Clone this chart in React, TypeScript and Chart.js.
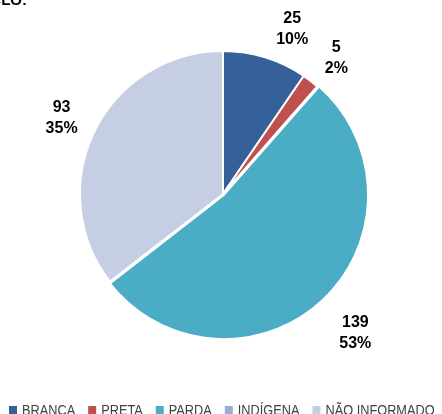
import React, { useEffect, useRef } from "react";
import { Chart, registerables } from "chart.js";

Chart.register(...registerables);

const categories = ["BRANCA", "PRETA", "PARDA", "INDÍGENA", "NÃO INFORMADO"];
const values = [25, 5, 139, 0, 93];
const percentLabels = ["10%", "2%", "53%", "0%", "35%"];
const colors = ["#36609A", "#C0504D", "#4BACC6", "#9BAFD5", "#C5CEE3"];
const offsets = [0, 0, 5, 0, 0];
const titleText = "DISTRIBUIÇÃO DOS ALUNOS POR COR/RAÇA NO CICLO:";

const labelPlugin = {
  id: "outerLabels",
  afterDatasetsDraw(chart: any) {
    const ctx = chart.ctx;
    const meta = chart.getDatasetMeta(0);
    ctx.save();
    ctx.font = "bold 16px 'Liberation Sans', Arial, sans-serif";
    ctx.fillStyle = "#000000";
    ctx.textAlign = "center";
    ctx.textBaseline = "middle";
    meta.data.forEach((arc: any, i: number) => {
      if (!values[i]) return;
      const p = arc.getProps(["x", "y", "startAngle", "endAngle", "outerRadius"], true);
      const mid = (p.startAngle + p.endAngle) / 2;
      const r = p.outerRadius + 10 + offsets[i];
      const ax = p.x + Math.cos(mid) * r;
      const ay = p.y + Math.sin(mid) * r;
      const l1 = String(values[i]);
      const l2 = percentLabels[i];
      const hw = Math.max(ctx.measureText(l1).width, ctx.measureText(l2).width) / 2;
      const hh = 20;
      const s = Math.sin(mid);
      const cx = ax + Math.sign(Math.cos(mid)) * (hw + 8);
      const cy = ay + (s > 0 ? hh + 4 : s * hh);
      ctx.fillText(l1, cx, cy - 10);
      ctx.fillText(l2, cx, cy + 11);
    });
    ctx.restore();
  },
};

const legendPlugin = {
  id: "customLegend",
  afterDraw(chart: any) {
    const ctx = chart.ctx;
    ctx.save();
    ctx.font = "14.5px 'Liberation Sans', Arial, sans-serif";
    ctx.textBaseline = "alphabetic";
    ctx.textAlign = "left";
    const sx = 0.88;
    let x = 9;
    const baseY = 415;
    categories.forEach((c, i) => {
      ctx.fillStyle = colors[i];
      ctx.fillRect(x, 406, 8, 8);
      x += 13;
      ctx.fillStyle = "#404040";
      ctx.save();
      ctx.translate(x, baseY);
      ctx.scale(sx, 1);
      ctx.fillText(c, 0, 0);
      ctx.restore();
      x += ctx.measureText(c).width * sx + 13;
    });
    ctx.font = "bold 15px 'Liberation Sans', Arial, sans-serif";
    ctx.fillStyle = "#000000";
    ctx.textAlign = "right";
    ctx.fillText(titleText, 27, 5);
    ctx.restore();
  },
};

export default function App() {
  const ref = useRef<HTMLCanvasElement>(null);
  useEffect(() => {
    if (!ref.current) return;
    const chart = new Chart(ref.current, {
      type: "pie",
      data: {
        labels: categories,
        datasets: [
          {
            data: values,
            backgroundColor: colors,
            borderColor: "#FFFFFF",
            borderWidth: 2,
            offset: offsets,
            hoverOffset: 0,
          },
        ],
      },
      options: {
        responsive: false,
        animation: false,
        radius: 143,
        layout: { padding: { left: 4, right: 0, top: 2, bottom: 28 } },
        plugins: {
          legend: { display: false },
          tooltip: { enabled: false },
        },
      } as any,
      plugins: [labelPlugin, legendPlugin],
    });
    return () => chart.destroy();
  }, []);
  return (
    <div style={{ position: "fixed", left: 0, top: 0, width: 442, height: 414, background: "#fff" }}>
      <canvas ref={ref} width={442} height={414} style={{ display: "block" }} />
    </div>
  );
}
